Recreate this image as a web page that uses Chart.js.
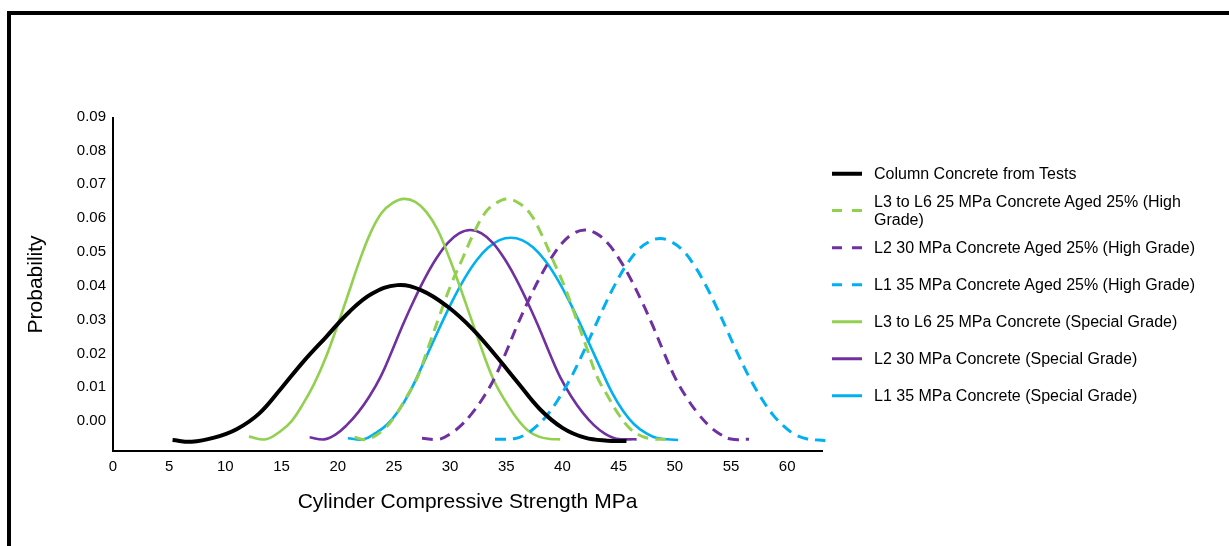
<!DOCTYPE html>
<html>
<head>
<meta charset="utf-8">
<script src="https://cdn.jsdelivr.net/npm/chart.js@4.4.1/dist/chart.umd.min.js"></script>
<style>
  html, body { margin: 0; padding: 0; background: #fff; overflow: hidden; }
  #wrap { position: relative; width: 1229px; height: 546px; }
  #frame { position: absolute; left: 7px; top: 11px; width: 1400px; height: 700px;
           border-top: 4px solid #000; border-left: 4px solid #000; box-sizing: border-box; pointer-events: none; }
  canvas { position: absolute; left: 0; top: 0; }
  .lg { position: absolute; left: 831px; transform: translateY(-50%); display: flex; align-items: center;
        font-family: "Liberation Sans", Arial, sans-serif; font-size: 16px; color: #000; }
  .lg svg { flex: none; }
  .lg span { display: block; margin-left: 12px; width: 340px; line-height: 18.4px; }
</style>
</head>
<body>
<div id="wrap">
  <canvas id="c" width="1229" height="546"></canvas>
  <div id="frame"></div>
  <div id="legend"></div>
</div>
<script>
// ---- data ----
const seriesNames = [
  "Column Concrete from Tests",
  "L3 to L6 25 MPa Concrete Aged 25% (High Grade)",
  "L2 30 MPa Concrete Aged 25% (High Grade)",
  "L1 35 MPa Concrete Aged 25% (High Grade)",
  "L3 to L6 25 MPa Concrete (Special Grade)",
  "L2 30 MPa Concrete (Special Grade)",
  "L1 35 MPa Concrete (Special Grade)"
];

const testsX = [5.3, 7, 9, 11, 13, 15, 17, 19, 21, 23, 25.3, 27.5, 29.8, 32, 34, 36, 38, 40, 42, 44, 45.7];
const testsY = [-0.0056, -0.0061, -0.0049, -0.0024, 0.0022, 0.0098, 0.0178, 0.0250, 0.0322, 0.0376, 0.0402, 0.0386, 0.0338, 0.0272, 0.0196, 0.0115, 0.0035, -0.0020, -0.0049, -0.0058, -0.0059];

const l3AgedX = [21.5, 22.6, 24.1, 25.1, 26.1, 27.1, 28.1, 29.1, 30.1, 31.1, 32.1, 33.1, 34.1, 35.1, 36.1, 37.1, 38.1, 39.1, 40.1, 41.1, 42.1, 43.1, 44.1, 45.1, 46.1, 47.1, 48.1, 49.2];
const l3AgedY = [-0.0048, -0.0054, -0.0025, 0.0015, 0.0070, 0.0130, 0.0222, 0.0315, 0.0405, 0.0480, 0.0555, 0.0615, 0.0645, 0.0657, 0.0645, 0.0615, 0.0555, 0.0480, 0.0405, 0.0315, 0.0222, 0.0130, 0.0070, 0.0015, -0.0025, -0.0045, -0.0053, -0.0054];

const l2AgedX = [27.5, 29, 30, 31, 32, 33, 34, 35, 36, 37, 38, 39, 40, 41, 42, 43, 44, 45, 46, 47, 48, 49, 50, 51, 52, 53, 54, 55, 56.6];
const l2AgedY = [-0.0051, -0.0054, -0.0038, -0.0012, 0.0025, 0.0072, 0.0130, 0.0205, 0.0285, 0.0358, 0.0425, 0.0482, 0.0527, 0.0555, 0.0565, 0.0555, 0.0527, 0.0482, 0.0425, 0.0358, 0.0285, 0.0205, 0.0130, 0.0072, 0.0025, -0.0012, -0.0038, -0.0053, -0.0054];

const l1AgedX = [34, 35.7, 36.7, 37.7, 38.7, 39.7, 40.7, 41.7, 42.7, 43.7, 44.7, 45.7, 46.7, 47.7, 48.7, 49.7, 50.7, 51.7, 52.7, 53.7, 54.7, 55.7, 56.7, 57.7, 58.7, 59.7, 60.7, 61.7, 63.4];
const l1AgedY = [-0.0054, -0.0052, -0.0040, -0.0015, 0.0020, 0.0068, 0.0125, 0.0192, 0.0265, 0.0338, 0.0405, 0.0462, 0.0505, 0.0530, 0.0540, 0.0530, 0.0505, 0.0462, 0.0405, 0.0338, 0.0265, 0.0192, 0.0125, 0.0068, 0.0020, -0.0015, -0.0040, -0.0052, -0.0058];

const l3SpecialX = [12.1, 13.6, 14.9, 15.9, 16.9, 17.9, 18.9, 19.9, 20.9, 21.9, 22.9, 23.9, 24.9, 25.9, 26.9, 27.9, 28.9, 29.9, 30.9, 31.9, 32.9, 33.9, 34.9, 35.9, 36.9, 37.9, 38.9, 39.8];
const l3SpecialY = [-0.0046, -0.0054, -0.0030, 0.0000, 0.0050, 0.0110, 0.0185, 0.0275, 0.0372, 0.0470, 0.0555, 0.0615, 0.0645, 0.0657, 0.0648, 0.0618, 0.0565, 0.0485, 0.0395, 0.0300, 0.0205, 0.0120, 0.0060, 0.0010, -0.0027, -0.0046, -0.0053, -0.0054];

const l2SpecialX = [17.5, 18.8, 19.8, 20.8, 21.8, 22.8, 23.8, 24.8, 25.8, 26.8, 27.8, 28.8, 29.8, 30.8, 31.8, 32.8, 33.8, 34.8, 35.8, 36.8, 37.8, 38.8, 39.8, 40.8, 41.8, 42.8, 43.8, 44.8, 46.6];
const l2SpecialY = [-0.0048, -0.0054, -0.0040, -0.0012, 0.0025, 0.0072, 0.0130, 0.0205, 0.0285, 0.0358, 0.0425, 0.0482, 0.0527, 0.0555, 0.0565, 0.0555, 0.0527, 0.0482, 0.0425, 0.0358, 0.0285, 0.0205, 0.0130, 0.0072, 0.0025, -0.0012, -0.0038, -0.0052, -0.0054];

const l1SpecialX = [20.9, 22.3, 23.4, 24.4, 25.4, 26.4, 27.4, 28.4, 29.4, 30.4, 31.4, 32.4, 33.4, 34.4, 35.4, 36.4, 37.4, 38.4, 39.4, 40.4, 41.4, 42.4, 43.4, 44.4, 45.4, 46.4, 47.4, 48.4, 50.3];
const l1SpecialY = [-0.0051, -0.0054, -0.0035, -0.0010, 0.0030, 0.0085, 0.0155, 0.0228, 0.0300, 0.0368, 0.0428, 0.0477, 0.0513, 0.0535, 0.0542, 0.0535, 0.0513, 0.0477, 0.0428, 0.0368, 0.0300, 0.0228, 0.0155, 0.0085, 0.0030, -0.0010, -0.0035, -0.0050, -0.0056];

const xTickValues = [0, 5, 10, 15, 20, 25, 30, 35, 40, 45, 50, 55, 60];
const yTickValues = [0, 0.01, 0.02, 0.03, 0.04, 0.05, 0.06, 0.07, 0.08, 0.09];

// ---- styles ----
const seriesX = [testsX, l3AgedX, l2AgedX, l1AgedX, l3SpecialX, l2SpecialX, l1SpecialX];
const seriesY = [testsY, l3AgedY, l2AgedY, l1AgedY, l3SpecialY, l2SpecialY, l1SpecialY];
const seriesColors = ["#000000", "#92d050", "#7030a0", "#00b0f0", "#92d050", "#7030a0", "#00b0f0"];
const seriesDashed = [false, true, true, true, false, false, false];
const seriesWidths = [4, 3, 3, 3, 2.6, 2.6, 2.6];

const FONT = '"Liberation Sans", Arial, sans-serif';

const datasets = seriesNames.map((name, i) => ({
  label: name,
  data: seriesX[i].map((x, k) => ({ x: x, y: seriesY[i][k] })),
  borderColor: seriesColors[i],
  backgroundColor: seriesColors[i],
  borderWidth: seriesWidths[i],
  borderDash: seriesDashed[i] ? [11, 7] : [],
  pointRadius: 0,
  fill: false,
  tension: 0.4,
  cubicInterpolationMode: 'default',
  clip: false
}));

new Chart(document.getElementById('c'), {
  type: 'line',
  data: { datasets: datasets },
  options: {
    responsive: false,
    animation: false,
    devicePixelRatio: 1,
    layout: { padding: { left: 23.4, right: 407, top: 118.4, bottom: 15.5 } },
    plugins: { legend: { display: false }, tooltip: { enabled: false } },
    scales: {
      x: {
        type: 'linear', min: 0, max: 63.1,
        grid: { display: false, drawTicks: false },
        border: { display: true, color: '#000', width: 2 },
        afterBuildTicks: s => { s.ticks = xTickValues.map(v => ({ value: v })); },
        afterFit: s => { s.height = 80; },
        ticks: { padding: 7, color: '#000', autoSkip: false, maxRotation: 0, font: { family: FONT, size: 15 } },
        title: { display: true, text: 'Cylinder Compressive Strength MPa', color: '#000',
                 font: { family: FONT, size: 21 }, padding: { top: 0, bottom: 16 } }
      },
      y: {
        type: 'linear', min: -0.0087, max: 0.0895,
        grid: { display: false, drawTicks: false },
        border: { display: true, color: '#000', width: 2 },
        afterBuildTicks: s => { s.ticks = yTickValues.map(v => ({ value: v })); },
        afterFit: s => { s.width = 89.6; },
        ticks: { padding: 7, color: '#000', font: { family: FONT, size: 15 },
                 callback: v => Number(v).toFixed(2) },
        title: { display: true, text: 'Probability', color: '#000',
                 font: { family: FONT, size: 21 }, padding: { top: 0, bottom: 0 } }
      }
    }
  }
});

// ---- HTML legend ----
const legendEl = document.getElementById('legend');
seriesNames.forEach((name, i) => {
  const item = document.createElement('div');
  item.className = 'lg';
  item.style.top = (174 + i * 37) + 'px';
  const dash = seriesDashed[i] ? 'stroke-dasharray="10 10"' : '';
  const w = i === 0 ? 4 : 3;
  item.innerHTML = '<svg width="31" height="8"><line x1="1" y1="4" x2="31" y2="4" stroke="' + seriesColors[i] +
    '" stroke-width="' + w + '" ' + dash + '/></svg><span></span>';
  item.querySelector('span').textContent = name;
  legendEl.appendChild(item);
});
</script>
</body>
</html>
